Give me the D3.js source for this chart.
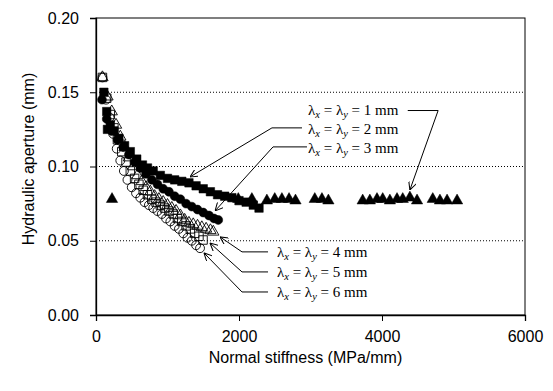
<!DOCTYPE html>
<html>
<head>
<meta charset="utf-8">
<script src="https://cdn.jsdelivr.net/npm/d3@7"></script>
<style>
  body { margin: 0; background: #fff; }
  svg text { fill: #000; }
</style>
</head>
<body>
<div id="chart"></div>
<script>
// normal stiffness (MPa/mm) vs hydraulic aperture (mm)
var s1mm = [[224,0.078],[1990,0.078],[2180,0.078],[2390,0.077],[2500,0.078],[2600,0.078],[2700,0.078],[2790,0.077],
            [3060,0.078],[3160,0.078],[3250,0.077],[3730,0.077],[3830,0.077],[3930,0.078],[4010,0.078],[4110,0.077],
            [4210,0.078],[4290,0.078],[4390,0.079],[4490,0.077],[4710,0.078],[4810,0.077],[4910,0.077],[5050,0.077]];
var s2mm = [[110,0.150],[150,0.137],[160,0.125],[200,0.128],[250,0.124],[320,0.119],[400,0.114],[480,0.110],
            [570,0.105],[650,0.101],[720,0.099],[800,0.097],[900,0.094],[1000,0.092],[1100,0.091],[1200,0.090],
            [1300,0.089],[1400,0.087],[1500,0.085],[1600,0.083],[1700,0.081],[1800,0.080],[1900,0.079],[2000,0.077],
            [2100,0.076],[2200,0.074],[2280,0.072]];
var s3mm = [[84,0.145],[150,0.132],[220,0.124],[300,0.118],[380,0.113],[460,0.108],[540,0.103],[620,0.099],
            [700,0.095],[780,0.091],[860,0.088],[940,0.085],[1020,0.083],[1100,0.080],[1180,0.078],[1260,0.075],
            [1340,0.073],[1420,0.071],[1500,0.069],[1580,0.067],[1650,0.065],[1710,0.064]];
var s4mm = [[90,0.160],[160,0.147],[220,0.137],[280,0.128],[340,0.120],[400,0.113],[460,0.106],[520,0.100],
            [580,0.094],[640,0.090],[700,0.086],[760,0.083],[820,0.080],[880,0.078],[940,0.076],[1000,0.074],
            [1060,0.072],[1120,0.070],[1180,0.067],[1240,0.064],[1300,0.062],[1360,0.061],[1420,0.060],[1480,0.059],
            [1540,0.058],[1600,0.057],[1640,0.056]];
var s5mm = [[90,0.160],[150,0.146],[200,0.135],[250,0.126],[300,0.118],[360,0.110],[420,0.103],[480,0.097],
            [540,0.092],[600,0.088],[660,0.084],[720,0.081],[780,0.078],[840,0.076],[900,0.074],[960,0.072],
            [1020,0.070],[1080,0.068],[1140,0.065],[1200,0.063],[1260,0.060],[1320,0.058],[1380,0.055],[1440,0.053],
            [1497,0.0505]];
var s6mm = [[90,0.160],[140,0.145],[190,0.133],[240,0.122],[290,0.112],[340,0.104],[390,0.097],[440,0.091],
            [500,0.086],[560,0.082],[620,0.079],[680,0.076],[740,0.074],[800,0.072],[860,0.070],[920,0.068],
            [980,0.065],[1040,0.063],[1100,0.060],[1160,0.058],[1220,0.055],[1280,0.052],[1340,0.050],[1400,0.047],
            [1455,0.045]];

var xTicks = [0, 2000, 4000, 6000];
var yTicks = [0, 0.05, 0.10, 0.15, 0.20];
var gridVals = [0.05, 0.10, 0.15];

// label text, label anchor and leader line (elbow points then arrow tip), in data units
var labels = ["1 mm", "2 mm", "3 mm", "4 mm", "5 mm", "6 mm"];
var labelPos = [[2965,0.1381],[2965,0.1253],[2965,0.1125],[2531,0.0425],[2531,0.0290],[2531,0.0155]];
var leaders = [
  [[4360,0.1377],[4785,0.1377],[4390,0.0842]],
  [[2881,0.1260],[2461,0.1260],[1315,0.0930]],
  [[2951,0.1132],[2476,0.1132],[1665,0.0701]],
  [[2406,0.0425],[2042,0.0425],[1734,0.0526]],
  [[2406,0.0290],[2042,0.0290],[1594,0.0485]],
  [[2406,0.0155],[2042,0.0155],[1510,0.0418]]
];

var width = 553, height = 391;
var margin = {top: 18, right: 28, bottom: 76, left: 96};
var w = width - margin.left - margin.right,
    h = height - margin.top - margin.bottom;

var svg = d3.select("#chart").append("svg")
    .attr("width", width).attr("height", height);
var g = svg.append("g").attr("transform", "translate(" + margin.left + "," + margin.top + ")");

var x = d3.scaleLinear().domain([0, 6000]).range([0, w]);
var y = d3.scaleLinear().domain([0, 0.20]).range([h, 0]);

// dotted grid
g.selectAll(".grid").data(gridVals).enter().append("line")
  .attr("x1", 0).attr("x2", w)
  .attr("y1", function(d){ return y(d); }).attr("y2", function(d){ return y(d); })
  .attr("stroke", "#000").attr("stroke-width", 1).attr("stroke-dasharray", "1,2");

// frame
g.append("rect").attr("width", w).attr("height", h)
  .attr("fill", "none").attr("stroke", "#000").attr("stroke-width", 1);

var xAxis = g.append("g").attr("transform", "translate(0," + h + ")")
  .call(d3.axisBottom(x).tickValues(xTicks).tickSize(6).tickPadding(10).tickFormat(d3.format("d")));
var yAxis = g.append("g")
  .call(d3.axisLeft(y).tickValues(yTicks).tickSize(6).tickPadding(11).tickFormat(d3.format(".2f")));
[xAxis, yAxis].forEach(function(a){
  a.select(".domain").attr("stroke", "#000").attr("stroke-width", 1.3);
  a.selectAll("text").attr("font-family", "Liberation Sans, Arial, sans-serif").attr("font-size", 16);
});
xAxis.selectAll("text").attr("dy", "0.71em");

svg.append("text")
  .attr("x", margin.left + w / 2 - 5).attr("y", 363)
  .attr("text-anchor", "middle")
  .attr("font-family", "Liberation Sans, Arial, sans-serif").attr("font-size", 16)
  .text("Normal stiffness (MPa/mm)");
svg.append("text")
  .attr("transform", "translate(34," + 159 + ") rotate(-90)")
  .attr("text-anchor", "middle")
  .attr("font-family", "Liberation Sans, Arial, sans-serif").attr("font-size", 16)
  .text("Hydraulic aperture (mm)");

// markers
var sym = {
  triangle: d3.symbol().type(d3.symbolTriangle).size(56),
  square: d3.symbol().type(d3.symbolSquare).size(72),
  circle: d3.symbol().type(d3.symbolCircle).size(62)
};
var series = [
  {data: s1mm, shape: "triangle", filled: true},
  {data: s2mm, shape: "square", filled: true},
  {data: s3mm, shape: "circle", filled: true},
  {data: s4mm, shape: "triangle", filled: false},
  {data: s5mm, shape: "square", filled: false},
  {data: s6mm, shape: "circle", filled: false}
];
series.forEach(function(s){
  g.append("g").selectAll("path").data(s.data).enter().append("path")
    .attr("d", sym[s.shape])
    .attr("transform", function(d){ return "translate(" + x(d[0]) + "," + y(d[1]) + ")"; })
    .attr("fill", s.filled ? "#000" : "none")
    .attr("stroke", "#000").attr("stroke-width", s.filled ? 0.5 : 0.9);
});

// leader lines with open arrowheads
svg.append("defs").append("marker")
  .attr("id", "arr").attr("viewBox", "0 0 10 10").attr("refX", 10).attr("refY", 5)
  .attr("markerWidth", 8).attr("markerHeight", 8).attr("markerUnits", "userSpaceOnUse")
  .attr("orient", "auto")
  .append("path").attr("d", "M0,0 L10,5 L0,10").attr("fill", "none").attr("stroke", "#000").attr("stroke-width", 1.3);

var line = d3.line().x(function(d){ return x(d[0]); }).y(function(d){ return y(d[1]); });
g.selectAll(".leader").data(leaders).enter().append("path")
  .attr("d", line).attr("fill", "none").attr("stroke", "#000").attr("stroke-width", 1)
  .attr("marker-end", "url(#arr)");

var lab = g.selectAll(".lab").data(labels).enter().append("text")
  .attr("x", function(d, i){ return x(labelPos[i][0]); })
  .attr("y", function(d, i){ return y(labelPos[i][1]); })
  .attr("dy", "0.32em")
  .attr("font-family", "Liberation Serif, Times New Roman, serif").attr("font-size", 15);
lab.append("tspan").text("\u03bb");
lab.append("tspan").attr("font-style", "italic").attr("font-size", 10.5).attr("dy", 3).text("x");
lab.append("tspan").attr("dy", -3).text(" = \u03bb");
lab.append("tspan").attr("font-style", "italic").attr("font-size", 10.5).attr("dy", 3).text("y");
lab.append("tspan").attr("dy", -3).text(function(d){ return " = " + d; });
</script>
</body>
</html>
